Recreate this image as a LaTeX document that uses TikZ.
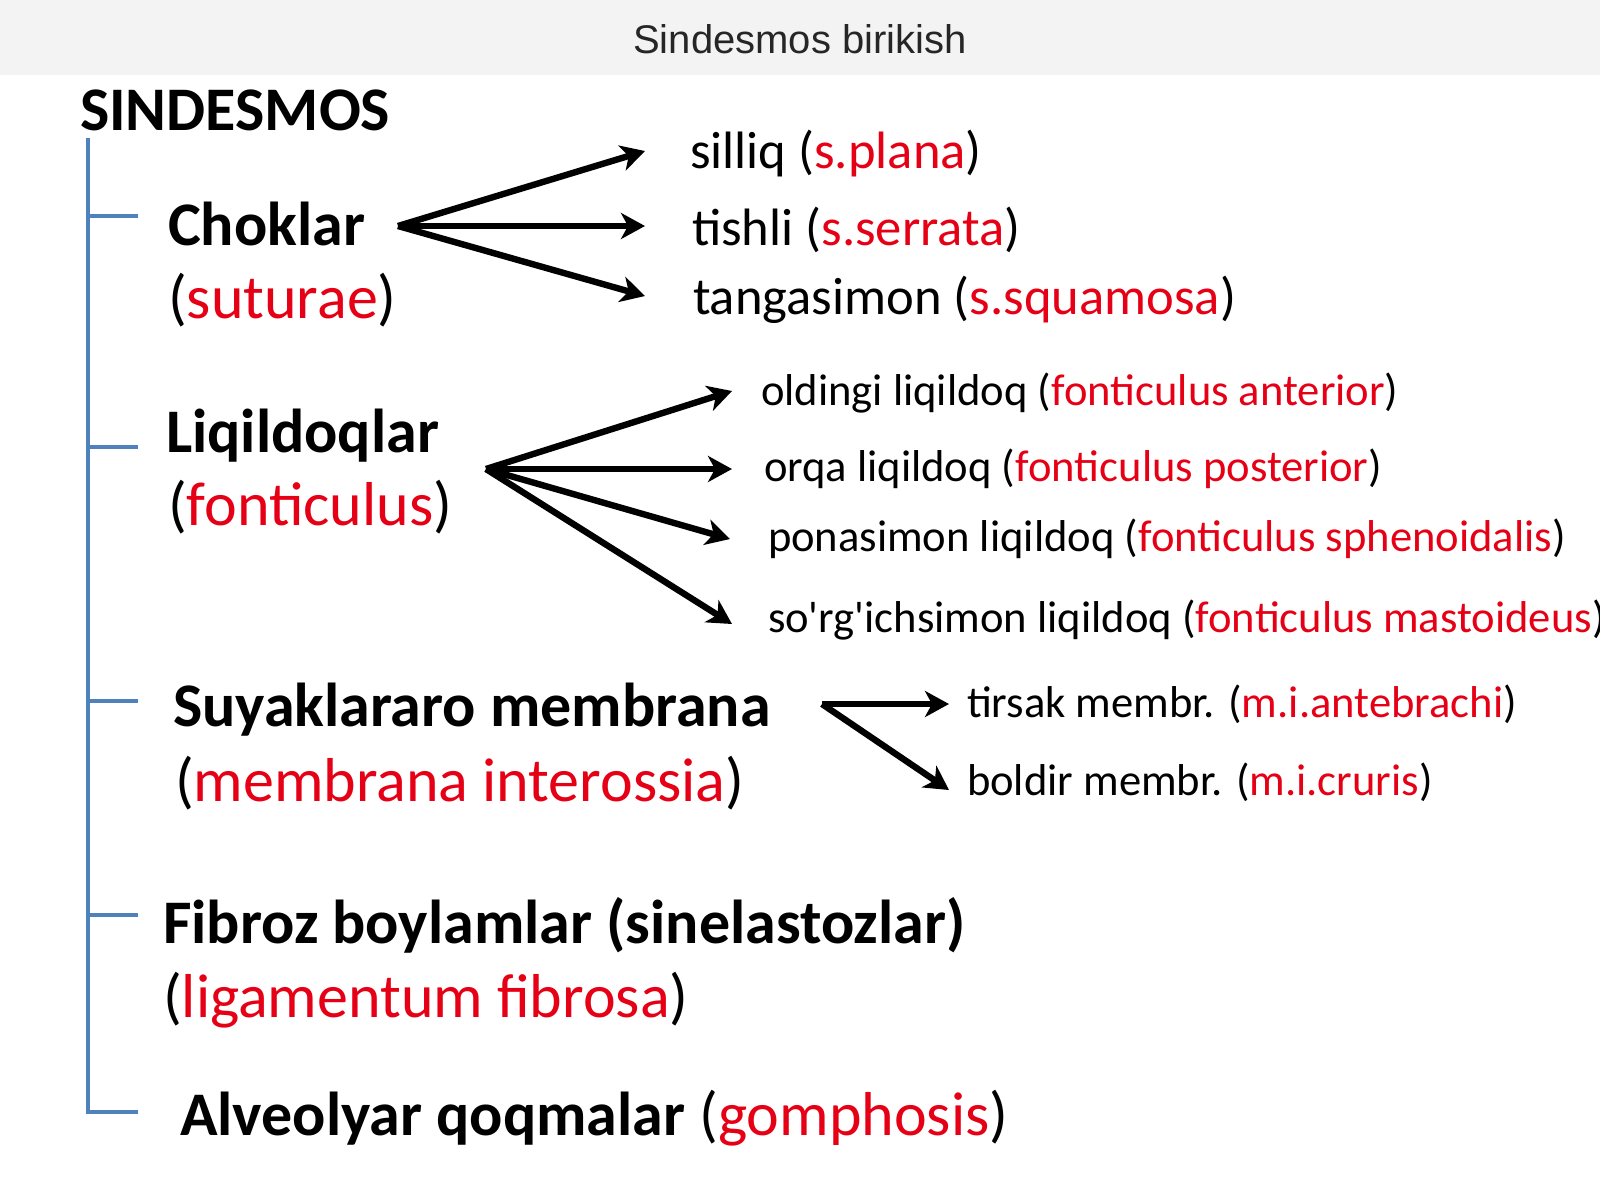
\documentclass[tikz,border=0pt]{standalone}
\usepackage{fontspec}
\setmainfont{Carlito}
\newfontfamily\titlefont{Liberation Sans}
\usetikzlibrary{arrows.meta}
\definecolor{latred}{RGB}{230,0,22}
\definecolor{bracketblue}{RGB}{79,129,189}
\definecolor{bandgray}{RGB}{243,243,243}
\newcommand{\lat}[1]{(\textcolor{latred}{#1})}
\newcommand{\q}{\textquotesingle}

\begin{document}
\begin{tikzpicture}[x=0.5pt,y=-0.5pt,
  txt/.style={anchor=base west, inner sep=0pt, outer sep=0pt},
  head/.style={txt, font=\fontsize{31}{36}\selectfont\bfseries},
  latin/.style={txt, font=\fontsize{31}{36}\selectfont},
  subbig/.style={txt, font=\fontsize{26.3}{31}\selectfont},
  subsmall/.style={txt, font=\fontsize{22.3}{26}\selectfont},
  fan/.style={line width=3.2pt, -{Stealth[length=12pt,width=13pt,inset=3.5pt]}},
  bracket/.style={bracketblue, line width=2pt}]

\useasboundingbox (0,0) rectangle (1600,1200);

% Title band
\fill[bandgray] (0,0) rectangle (1600,75);
\node[font=\titlefont\fontsize{20}{24}\selectfont, text=black!85] (title) at (800,39) {Sindesmos birikish};

% Main heading and blue bracket
\node[head] (sindesmos) at (80,130) {SINDESMOS};
\draw[bracket] (88,138) -- (88,1112) -- (138,1112);
\foreach \y in {216,447,701,915}
  \draw[bracket] (88,\y) -- (138,\y);

% Groups
\node[head]  (choklar) at (168,245) {Choklar};
\node[latin] (suturae) at (168,318) {\lat{suturae}};
\node[head]  (liqildoq) at (166,452) {Liqildoqlar};
\node[latin] (fonticulus) at (168,525) {\lat{fonticulus}};
\node[head]  (suyak) at (173,726) {Suyaklararo membrana};
\node[latin] (interossia) at (175,801) {\lat{membrana interossia}};
\node[head]  (fibroz) at (163,943) {Fibroz boylamlar (sinelastozlar)};
\node[latin] (ligament) at (163,1017) {\lat{ligamentum fibrosa}};
\node[head]  (alveol) at (180,1135) {Alveolyar qoqmalar \textmd{\lat{gomphosis}}};

% Sutures
\node[subbig] (silliq) at (690,168) {silliq \lat{s.plana}};
\node[subbig] (tishli) at (692,245) {tishli \lat{s.serrata}};
\node[subbig] (tanga) at (693,314) {tangasimon \lat{s.squamosa}};

% Fontanelles
\node[subsmall] (oldingi) at (761,405) {oldingi liqildoq \lat{fonticulus anterior}};
\node[subsmall] (orqa) at (764,481) {orqa liqildoq \lat{fonticulus posterior}};
\node[subsmall] (ponasimon) at (768,551) {ponasimon liqildoq \lat{fonticulus sphenoidalis}};
\node[subsmall] (sorgich) at (768,632) {so\q rg\q ichsimon liqildoq \lat{fonticulus mastoideus}};

% Membranes
\node[subsmall] (tirsak) at (967,717) {tirsak membr. \lat{m.i.antebrachi}};
\node[subsmall] (boldir) at (967,795) {boldir membr. \lat{m.i.cruris}};

% Arrow fans
\coordinate (chokfan) at (398,226);
\coordinate (silliq-tip) at (645,151);
\coordinate (tishli-tip) at (645,226);
\coordinate (tanga-tip) at (645,296);
\foreach \tip in {silliq-tip,tishli-tip,tanga-tip}
  \draw[fan] (chokfan) -- (\tip);

\coordinate (liqfan) at (486,469);
\coordinate (oldingi-tip) at (732,391);
\coordinate (orqa-tip) at (732,469);
\coordinate (ponasimon-tip) at (730,539);
\coordinate (sorgich-tip) at (732,624);
\foreach \tip in {oldingi-tip,orqa-tip,ponasimon-tip,sorgich-tip}
  \draw[fan] (liqfan) -- (\tip);

\coordinate (membfan) at (822,704);
\coordinate (tirsak-tip) at (949,704);
\coordinate (boldir-tip) at (949,790);
\foreach \tip in {tirsak-tip,boldir-tip}
  \draw[fan] (membfan) -- (\tip);

\end{tikzpicture}
\end{document}
